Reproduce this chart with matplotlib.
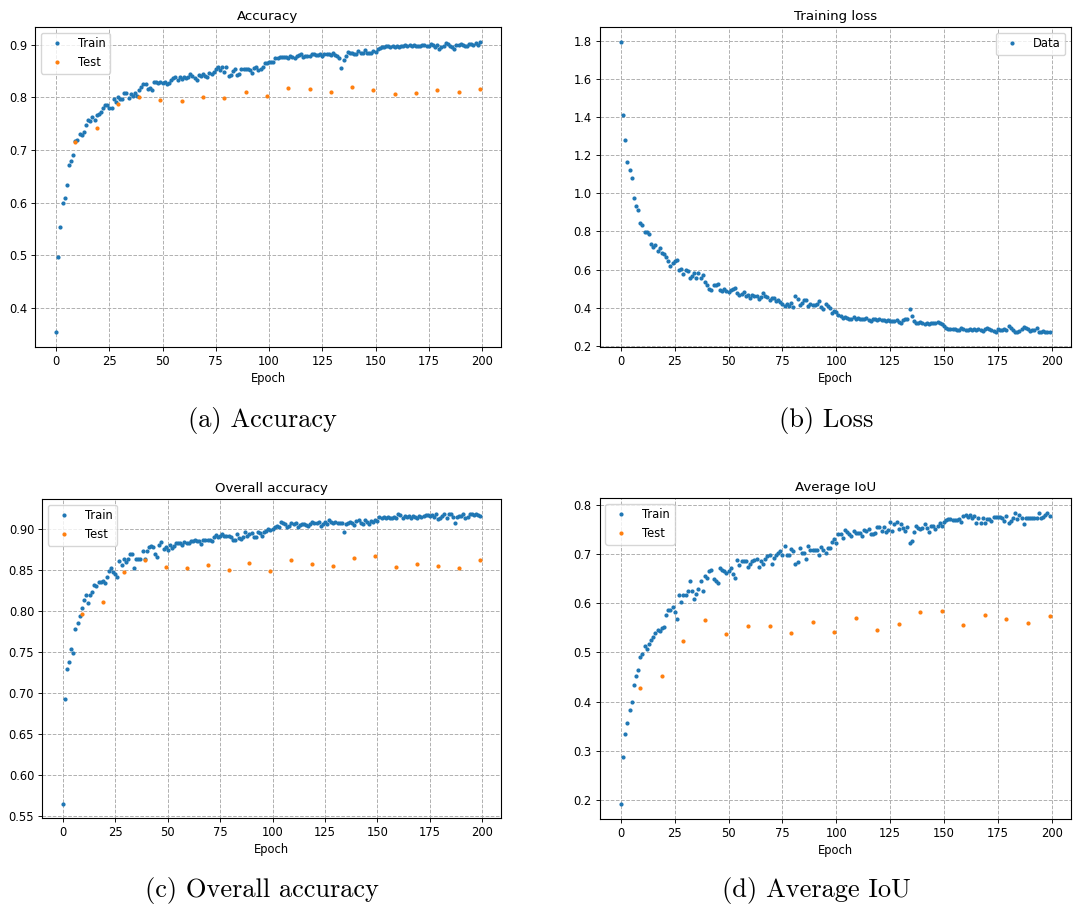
import numpy as np
import matplotlib
matplotlib.use("Agg")
import matplotlib.pyplot as plt

epochs = list(range(200))
test_epochs = list(range(9, 200, 10))

acc_train = [
    0.353, 0.497, 0.554, 0.600, 0.609, 0.633, 0.671, 0.678, 0.690, 0.716,
    0.718, 0.730, 0.729, 0.735, 0.747, 0.757, 0.755, 0.763, 0.757, 0.767,
    0.768, 0.773, 0.780, 0.786, 0.785, 0.779, 0.780, 0.797, 0.792, 0.801,
    0.796, 0.797, 0.808, 0.808, 0.798, 0.806, 0.803, 0.808, 0.802, 0.813,
    0.819, 0.826, 0.826, 0.815, 0.818, 0.813, 0.829, 0.829, 0.827, 0.830,
    0.828, 0.830, 0.826, 0.828, 0.832, 0.836, 0.838, 0.833, 0.839, 0.835,
    0.838, 0.836, 0.838, 0.844, 0.840, 0.836, 0.833, 0.842, 0.840, 0.845,
    0.841, 0.839, 0.847, 0.845, 0.849, 0.853, 0.858, 0.852, 0.858, 0.849,
    0.857, 0.840, 0.843, 0.850, 0.853, 0.842, 0.845, 0.854, 0.853, 0.854,
    0.854, 0.852, 0.846, 0.856, 0.858, 0.851, 0.853, 0.858, 0.866, 0.866,
    0.867, 0.867, 0.868, 0.874, 0.875, 0.877, 0.876, 0.877, 0.876, 0.874,
    0.878, 0.876, 0.875, 0.879, 0.880, 0.882, 0.876, 0.878, 0.879, 0.879,
    0.882, 0.882, 0.880, 0.880, 0.882, 0.878, 0.882, 0.882, 0.882, 0.881,
    0.884, 0.880, 0.878, 0.875, 0.855, 0.870, 0.878, 0.886, 0.885, 0.884,
    0.883, 0.882, 0.888, 0.885, 0.884, 0.889, 0.885, 0.884, 0.885, 0.888,
    0.887, 0.891, 0.894, 0.896, 0.896, 0.897, 0.897, 0.896, 0.897, 0.895,
    0.897, 0.896, 0.898, 0.897, 0.899, 0.898, 0.899, 0.897, 0.899, 0.898,
    0.897, 0.898, 0.900, 0.899, 0.897, 0.898, 0.901, 0.899, 0.896, 0.900,
    0.892, 0.895, 0.898, 0.903, 0.902, 0.898, 0.896, 0.892, 0.899, 0.899,
    0.902, 0.900, 0.897, 0.898, 0.902, 0.901, 0.900, 0.903, 0.899, 0.906,
]
acc_test = [0.715, 0.742, 0.787, 0.801, 0.795, 0.793, 0.800, 0.798, 0.810, 0.802,
            0.818, 0.816, 0.811, 0.819, 0.813, 0.807, 0.808, 0.814, 0.810, 0.816]

loss = [
    1.797, 1.413, 1.282, 1.163, 1.125, 1.082, 0.978, 0.936, 0.911, 0.842,
    0.835, 0.796, 0.797, 0.788, 0.736, 0.717, 0.727, 0.695, 0.714, 0.685,
    0.682, 0.665, 0.645, 0.621, 0.632, 0.643, 0.650, 0.598, 0.602, 0.576,
    0.598, 0.590, 0.555, 0.565, 0.580, 0.558, 0.580, 0.555, 0.570, 0.535,
    0.520, 0.500, 0.495, 0.517, 0.520, 0.523, 0.495, 0.488, 0.497, 0.490,
    0.480, 0.492, 0.500, 0.504, 0.475, 0.468, 0.470, 0.480, 0.462, 0.468,
    0.453, 0.465, 0.460, 0.460, 0.445, 0.455, 0.475, 0.462, 0.455, 0.440,
    0.450, 0.450, 0.435, 0.440, 0.430, 0.418, 0.410, 0.420, 0.410, 0.425,
    0.405, 0.460, 0.445, 0.415, 0.425, 0.440, 0.438, 0.410, 0.420, 0.412,
    0.412, 0.420, 0.437, 0.403, 0.395, 0.418, 0.410, 0.400, 0.370, 0.385,
    0.378, 0.362, 0.355, 0.345, 0.350, 0.345, 0.338, 0.340, 0.350, 0.340,
    0.345, 0.340, 0.342, 0.338, 0.345, 0.335, 0.332, 0.340, 0.338, 0.335,
    0.340, 0.333, 0.335, 0.330, 0.333, 0.328, 0.330, 0.328, 0.333, 0.326,
    0.318, 0.335, 0.338, 0.340, 0.395, 0.355, 0.330, 0.322, 0.318, 0.325,
    0.318, 0.316, 0.320, 0.315, 0.320, 0.318, 0.322, 0.325, 0.320, 0.312,
    0.305, 0.295, 0.290, 0.290, 0.288, 0.290, 0.285, 0.282, 0.295, 0.288,
    0.285, 0.283, 0.288, 0.282, 0.286, 0.282, 0.288, 0.283, 0.280, 0.287,
    0.292, 0.290, 0.285, 0.280, 0.275, 0.288, 0.285, 0.285, 0.288, 0.283,
    0.303, 0.295, 0.283, 0.275, 0.272, 0.280, 0.288, 0.300, 0.292, 0.290,
    0.280, 0.282, 0.285, 0.292, 0.272, 0.275, 0.278, 0.270, 0.275, 0.270,
]

oa_train = [
    0.565, 0.693, 0.729, 0.738, 0.753, 0.749, 0.778, 0.785, 0.794, 0.804,
    0.813, 0.820, 0.810, 0.820, 0.823, 0.832, 0.830, 0.835, 0.835, 0.837,
    0.834, 0.841, 0.849, 0.853, 0.848, 0.845, 0.842, 0.861, 0.856, 0.864,
    0.860, 0.864, 0.869, 0.869, 0.853, 0.864, 0.864, 0.864, 0.873, 0.864,
    0.873, 0.878, 0.879, 0.878, 0.869, 0.866, 0.880, 0.884, 0.876, 0.878,
    0.874, 0.880, 0.877, 0.879, 0.883, 0.883, 0.883, 0.881, 0.884, 0.883,
    0.883, 0.886, 0.885, 0.887, 0.886, 0.886, 0.882, 0.887, 0.887, 0.887,
    0.887, 0.885, 0.890, 0.893, 0.890, 0.891, 0.894, 0.892, 0.891, 0.892,
    0.890, 0.887, 0.887, 0.894, 0.889, 0.888, 0.890, 0.897, 0.892, 0.894,
    0.895, 0.890, 0.890, 0.896, 0.895, 0.891, 0.897, 0.898, 0.900, 0.899,
    0.900, 0.903, 0.904, 0.902, 0.909, 0.907, 0.906, 0.902, 0.904, 0.907,
    0.906, 0.908, 0.903, 0.905, 0.906, 0.906, 0.905, 0.904, 0.906, 0.909,
    0.908, 0.908, 0.909, 0.904, 0.906, 0.909, 0.906, 0.911, 0.909, 0.908,
    0.909, 0.907, 0.908, 0.907, 0.896, 0.906, 0.908, 0.909, 0.908, 0.905,
    0.910, 0.911, 0.907, 0.906, 0.911, 0.909, 0.906, 0.910, 0.909, 0.911,
    0.910, 0.915, 0.914, 0.915, 0.913, 0.915, 0.914, 0.914, 0.915, 0.913,
    0.918, 0.917, 0.914, 0.916, 0.915, 0.916, 0.913, 0.916, 0.915, 0.914,
    0.916, 0.915, 0.916, 0.917, 0.917, 0.916, 0.917, 0.915, 0.918, 0.912,
    0.913, 0.916, 0.918, 0.914, 0.918, 0.919, 0.915, 0.908, 0.915, 0.916,
    0.916, 0.918, 0.914, 0.915, 0.919, 0.918, 0.917, 0.918, 0.917, 0.916,
]
oa_test = [0.796, 0.811, 0.847, 0.862, 0.854, 0.852, 0.856, 0.850, 0.858, 0.849,
           0.862, 0.857, 0.855, 0.865, 0.867, 0.854, 0.857, 0.855, 0.852, 0.862]

iou_train = [
    0.191, 0.287, 0.335, 0.357, 0.382, 0.399, 0.433, 0.452, 0.464, 0.490,
    0.497, 0.513, 0.507, 0.517, 0.526, 0.531, 0.540, 0.545, 0.544, 0.550,
    0.552, 0.576, 0.586, 0.586, 0.592, 0.583, 0.568, 0.616, 0.603, 0.617,
    0.617, 0.625, 0.645, 0.624, 0.609, 0.618, 0.629, 0.645, 0.625, 0.655,
    0.652, 0.665, 0.668, 0.650, 0.645, 0.640, 0.671, 0.668, 0.665, 0.662,
    0.665, 0.672, 0.660, 0.651, 0.687, 0.677, 0.685, 0.685, 0.685, 0.674,
    0.680, 0.685, 0.688, 0.690, 0.673, 0.685, 0.679, 0.690, 0.695, 0.697,
    0.680, 0.692, 0.698, 0.702, 0.705, 0.698, 0.717, 0.697, 0.697, 0.710,
    0.706, 0.680, 0.684, 0.713, 0.701, 0.702, 0.689, 0.717, 0.707, 0.707,
    0.707, 0.707, 0.698, 0.715, 0.707, 0.701, 0.713, 0.712, 0.725, 0.730,
    0.723, 0.740, 0.741, 0.733, 0.749, 0.745, 0.741, 0.737, 0.746, 0.743,
    0.743, 0.743, 0.737, 0.748, 0.747, 0.750, 0.740, 0.741, 0.742, 0.754,
    0.755, 0.746, 0.755, 0.744, 0.749, 0.764, 0.746, 0.761, 0.764, 0.751,
    0.760, 0.753, 0.747, 0.754, 0.722, 0.727, 0.745, 0.756, 0.752, 0.750,
    0.753, 0.760, 0.752, 0.745, 0.757, 0.756, 0.750, 0.757, 0.762, 0.757,
    0.765, 0.769, 0.771, 0.771, 0.769, 0.768, 0.768, 0.770, 0.764, 0.778,
    0.779, 0.775, 0.779, 0.773, 0.778, 0.763, 0.773, 0.762, 0.773, 0.762,
    0.771, 0.770, 0.766, 0.775, 0.775, 0.775, 0.775, 0.772, 0.767, 0.778,
    0.763, 0.766, 0.774, 0.784, 0.771, 0.780, 0.773, 0.760, 0.772, 0.773,
    0.773, 0.773, 0.772, 0.772, 0.784, 0.772, 0.776, 0.780, 0.783, 0.777,
]
iou_test = [0.428, 0.451, 0.523, 0.566, 0.537, 0.554, 0.554, 0.540, 0.562, 0.541,
            0.570, 0.545, 0.557, 0.582, 0.584, 0.555, 0.575, 0.568, 0.559, 0.574]

titles = ["Accuracy", "Training loss", "Overall accuracy", "Average IoU"]
captions = ["(a) Accuracy", "(b) Loss", "(c) Overall accuracy", "(d) Average IoU"]

W, H = 1073, 909
fig = plt.figure(figsize=(W / 100, H / 100), dpi=100)

plt.rcParams.update({
    "font.size": 8.3,
    "axes.linewidth": 0.8,
    "xtick.major.size": 2.8,
    "ytick.major.size": 2.8,
    "xtick.major.width": 0.64,
    "ytick.major.width": 0.64,
    "legend.fontsize": 8.3,
})

def px_axes(l, r, t, b):
    return fig.add_axes([l / W, 1 - b / H, (r - l) / W, (b - t) / H])

boxes = [(35, 501, 27, 347), (599.5, 1071, 27, 347),
         (42, 501, 499, 818), (599.5, 1071, 498, 819)]
axes = [px_axes(*b) for b in boxes]

ms = 4.0

def style(ax, title):
    ax.set_title(title, fontsize=9.6, pad=4.8)
    ax.set_xlabel("Epoch", fontsize=8.3, labelpad=3)
    ax.grid(True, linestyle="--", color="#b0b0b0", linewidth=0.7)
    ax.tick_params(labelsize=8.3, pad=2.8)
    for s in ax.spines.values():
        s.set_linewidth(0.8)

# (a)
ax = axes[0]
ax.plot(epochs, acc_train, ".", color="C0", markersize=ms, label="Train")
ax.plot(test_epochs, acc_test, ".", color="C1", markersize=ms, label="Test")
style(ax, titles[0])
ax.legend(loc="upper left")

# (b)
ax = axes[1]
ax.plot(epochs, loss, ".", color="C0", markersize=ms, label="Data")
style(ax, titles[1])
ax.legend(loc="upper right")

# (c)
ax = axes[2]
ax.plot(epochs, oa_train, ".", color="C0", markersize=ms, label="Train")
ax.plot(test_epochs, oa_test, ".", color="C1", markersize=ms, label="Test")
style(ax, titles[2])
ax.legend(loc="upper left")

# (d)
ax = axes[3]
ax.plot(epochs, iou_train, ".", color="C0", markersize=ms, label="Train")
ax.plot(test_epochs, iou_test, ".", color="C1", markersize=ms, label="Test")
style(ax, titles[3])
ax.legend(loc="upper left")

cap_pos = [(262, 420), (826, 420), (262, 890), (816, 890)]
for (cx, cy), txt in zip(cap_pos, captions):
    fig.text(cx / W, 1 - cy / H, txt, ha="center", va="center",
             fontsize=19, family="cmr10")

fig.savefig("out.png", dpi=100)
